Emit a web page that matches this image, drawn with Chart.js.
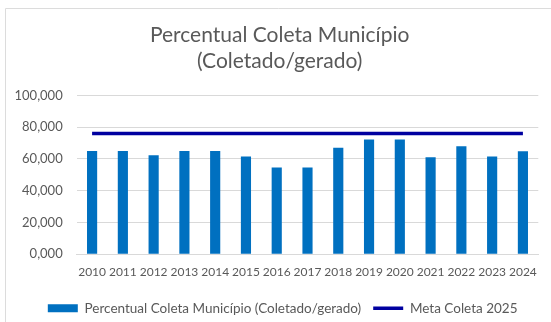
<!DOCTYPE html>
<html>
<head>
<meta charset="utf-8">
<script src="https://cdn.jsdelivr.net/npm/chart.js@4/dist/chart.umd.min.js"></script>
<style>
  html, body { margin: 0; padding: 0; background: #ffffff; }
  #wrap { position: relative; width: 551px; height: 322px; }
</style>
</head>
<body>
<div id="wrap"><canvas id="chart" width="551" height="322"></canvas></div>
<script>
// Anos e percentuais de coleta do município (coletado/gerado)
const anos = ['2010','2011','2012','2013','2014','2015','2016','2017','2018','2019','2020','2021','2022','2023','2024'];
const percentualColeta = [65, 65, 62.4, 65, 65, 61.6, 54.7, 54.7, 67, 72.3, 72.3, 61, 68, 61.6, 64.8];
const metaColeta2025 = [76, 76, 76, 76, 76, 76, 76, 76, 76, 76, 76, 76, 76, 76, 76];
const tituloLinhas = ['Percentual Coleta Município', '(Coletado/gerado)'];
const nomeSerieBarras = 'Percentual Coleta Município (Coletado/gerado)';
const nomeSerieMeta = 'Meta Coleta 2025';

const FONTE = 'Lato, "Open Sans", "Liberation Sans", sans-serif';
const CINZA_TEXTO = '#595959';
const CINZA_GRADE = '#d9d9d9';

// Moldura clara da área do gráfico
const moldura = {
  id: 'moldura',
  beforeDraw(chart) {
    const ctx = chart.ctx;
    ctx.save();
    ctx.strokeStyle = '#dcdcdc';
    ctx.lineWidth = 1;
    ctx.beginPath();
    ctx.moveTo(5.5, chart.height);
    ctx.lineTo(5.5, 8.5);
    ctx.lineTo(chart.width, 8.5);
    ctx.stroke();
    ctx.restore();
  }
};

// Centraliza título e legenda sobre a área de plotagem
const centralizar = {
  id: 'centralizar',
  afterLayout(chart) {
    const t = chart.titleBlock;
    if (t) { t.left += 8; t.right += 8; }
    const l = chart.legend;
    if (l) { l.left += 11; l.right += 11; }
  }
};

new Chart(document.getElementById('chart'), {
  type: 'bar',
  data: {
    labels: anos,
    datasets: [
      {
        type: 'line',
        label: nomeSerieMeta,
        data: metaColeta2025,
        borderColor: '#0000a0',
        backgroundColor: '#0000a0',
        borderWidth: 3.5,
        pointRadius: 0,
        pointHoverRadius: 0,
        pointStyle: 'line',
        order: 0
      },
      {
        label: nomeSerieBarras,
        data: percentualColeta,
        backgroundColor: '#0070c0',
        borderWidth: 0,
        categoryPercentage: 1,
        barPercentage: 0.33,
        pointStyle: 'rect',
        order: 1
      }
    ]
  },
  options: {
    responsive: false,
    animation: false,
    layout: { padding: { left: 5, right: 12.7, top: 8, bottom: -3 } },
    plugins: {
      title: {
        display: true,
        text: tituloLinhas,
        color: CINZA_TEXTO,
        font: { family: FONTE, size: 21, weight: 'normal', lineHeight: 1.2 },
        padding: { top: 15, bottom: 22 }
      },
      legend: {
        position: 'bottom',
        reverse: true,
        labels: {
          usePointStyle: true,
          pointStyleWidth: 30,
          boxHeight: 8,
          padding: 12,
          color: CINZA_TEXTO,
          font: { family: FONTE, size: 13.5 }
        }
      },
      tooltip: { enabled: false }
    },
    scales: {
      x: {
        grid: { display: false, drawTicks: false },
        border: { display: true, color: CINZA_GRADE },
        ticks: {
          color: CINZA_TEXTO,
          font: { family: FONTE, size: 12 },
          padding: 11,
          autoSkip: false,
          maxRotation: 0
        },
        afterFit(scale) { scale.height = 35.2; }
      },
      y: {
        min: 0,
        max: 100,
        grid: { color: CINZA_GRADE, drawTicks: false },
        border: { display: false },
        ticks: {
          stepSize: 20,
          color: CINZA_TEXTO,
          font: { family: FONTE, size: 13 },
          padding: 14,
          callback: (v) => v.toFixed(3).replace('.', ',')
        },
        afterFit(scale) { scale.width = 71.7; }
      }
    }
  },
  plugins: [moldura, centralizar]
});
</script>
</body>
</html>
